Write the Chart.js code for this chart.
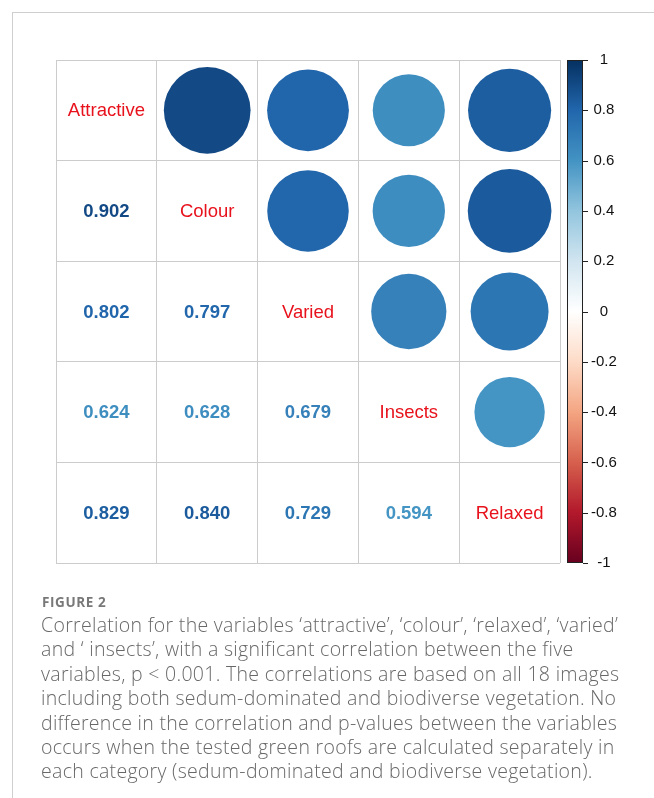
<!DOCTYPE html>
<html>
<head>
<meta charset="utf-8">
<script src="https://cdn.jsdelivr.net/npm/chart.js@4.4.1/dist/chart.umd.min.js"></script>
<style>
  html, body { margin: 0; padding: 0; background: #fff; }
  body { width: 654px; height: 798px; position: relative; overflow: hidden; }
  .frame { position: absolute; left: 12px; top: 12px; width: 700px; height: 800px;
           border-top: 1px solid #cfcfcf; border-left: 1px solid #cfcfcf; }
  #wrap { position: absolute; left: 0; top: 0; width: 654px; height: 620px; }
  .fig { position: absolute; left: 42px; top: 594px; font-family: "Open Sans", sans-serif;
         font-size: 13.5px; line-height: 16px; font-weight: 700; color: #787878; letter-spacing: 0.6px; }
  .txt { position: absolute; left: 41px; top: 613px; font-family: "Open Sans", sans-serif;
         font-size: 19.5px; line-height: 24.4px; font-weight: 300; color: #686868;
         letter-spacing: 0.3px; white-space: nowrap; }
</style>
</head>
<body>
<div class="frame"></div>
<div id="wrap"><canvas id="corrChart" width="654" height="620"></canvas></div>
<div class="fig">FIGURE 2</div>
<div class="txt">Correlation for the variables ‘attractive’, ‘colour’, ‘relaxed’, ‘varied’<br>and ‘ insects’, with a significant correlation between the five<br>variables, p &lt; 0.001. The correlations are based on all 18 images<br>including both sedum-dominated and biodiverse vegetation. No<br>difference in the correlation and p-values between the variables<br>occurs when the tested green roofs are calculated separately in<br>each category (sedum-dominated and biodiverse vegetation).</div>
<script>
// variables on the diagonal
const variables = ["Attractive", "Colour", "Varied", "Insects", "Relaxed"];

// lower triangle of the correlation matrix, one row per variable
const rowColour = [0.902];
const rowVaried = [0.802, 0.797];
const rowInsects = [0.624, 0.628, 0.679];
const rowRelaxed = [0.829, 0.840, 0.729, 0.594];

// colour legend
const cbarTicks = [1, 0.8, 0.6, 0.4, 0.2, 0, -0.2, -0.4, -0.6, -0.8, -1];
const cbarTickLabels = ["1", "0.8", "0.6", "0.4", "0.2", "0", "-0.2", "-0.4", "-0.6", "-0.8", "-1"];

// RdBu palette from -1 to 1
const rdbu = ["#67001F", "#B2182B", "#D6604D", "#F4A582", "#FDDBC7", "#FFFFFF",
              "#D1E5F0", "#92C5DE", "#4393C3", "#2166AC", "#053061"];

const lowerRows = [[], rowColour, rowVaried, rowInsects, rowRelaxed];
const n = variables.length;
const corr = [];
for (let i = 0; i < n; i++) {
    corr.push([]);
    for (let j = 0; j < n; j++) {
        if (i === j) corr[i].push(1);
        else if (j < i) corr[i].push(lowerRows[i][j]);
        else corr[i].push(lowerRows[j][i]);
    }
}

function hexToRgb(h) {
    return [parseInt(h.slice(1, 3), 16), parseInt(h.slice(3, 5), 16), parseInt(h.slice(5, 7), 16)];
}

function corrColor(v) {
    const pos = (v + 1) / 2 * (rdbu.length - 1);
    const k = Math.min(Math.floor(pos), rdbu.length - 2);
    const t = pos - k;
    const a = hexToRgb(rdbu[k]), b = hexToRgb(rdbu[k + 1]);
    const c = a.map((x, i) => Math.round(x + (b[i] - x) * t));
    return `rgb(${c[0]},${c[1]},${c[2]})`;
}

// circles for the upper triangle
const circles = [];
for (let i = 0; i < n; i++) {
    for (let j = i + 1; j < n; j++) {
        circles.push({ x: j + 0.5, y: i + 0.5, v: corr[i][j] });
    }
}

// circle area follows |r|, full cell for r = 1
function circleRadius(c) {
    const s = c.chart.scales.x;
    if (!c.raw || !s || !s.width) return 0;
    const cell = s.getPixelForValue(1) - s.getPixelForValue(0);
    return cell * 0.453 * Math.sqrt(Math.abs(c.raw.v));
}

// numbers in the lower triangle, names on the diagonal
const cellText = {
    id: "cellText",
    afterDatasetsDraw(chart) {
        const { ctx, scales: { x, y } } = chart;
        ctx.save();
        ctx.textAlign = "center";
        ctx.textBaseline = "middle";
        for (let i = 0; i < n; i++) {
            for (let j = 0; j <= i; j++) {
                const px = x.getPixelForValue(j + 0.5);
                const py = y.getPixelForValue(i + 0.5) + 1;
                if (i === j) {
                    ctx.font = '18.5px "Liberation Sans", Arial, sans-serif';
                    ctx.fillStyle = "#e8121c";
                    ctx.fillText(variables[i], px, py);
                } else {
                    ctx.font = 'bold 18.5px "Liberation Sans", Arial, sans-serif';
                    ctx.fillStyle = corrColor(corr[i][j]);
                    ctx.fillText(corr[i][j].toFixed(3), px, py);
                }
            }
        }
        ctx.restore();
    }
};

// gradient bar beside the matrix
const colorBar = {
    id: "colorBar",
    afterDraw(chart) {
        const { ctx, chartArea } = chart;
        const s = chart.scales.cbar;
        const left = chartArea.right + 7, right = chartArea.right + 23;
        const top = s.getPixelForValue(1), bottom = s.getPixelForValue(-1);
        const grad = ctx.createLinearGradient(0, bottom, 0, top);
        rdbu.forEach((c, i) => grad.addColorStop(i / (rdbu.length - 1), c));
        ctx.save();
        ctx.fillStyle = grad;
        ctx.fillRect(left, top, right - left, bottom - top);
        ctx.strokeStyle = "#222";
        ctx.lineWidth = 1;
        ctx.strokeRect(left + 0.5, top + 0.5, right - left - 1, bottom - top - 1);
        ctx.beginPath();
        cbarTicks.forEach(v => {
            const py = Math.round(s.getPixelForValue(v)) + 0.5;
            ctx.moveTo(right, py);
            ctx.lineTo(right + 5, py);
        });
        ctx.stroke();
        ctx.restore();
    }
};

const gridStyle = { color: "#cccccc", lineWidth: 1, drawTicks: false };

new Chart(document.getElementById("corrChart").getContext("2d"), {
    type: "scatter",
    data: {
        datasets: [{
            data: circles,
            showLine: false,
            pointBackgroundColor: c => c.raw ? corrColor(c.raw.v) : "#000",
            pointBorderWidth: 0,
            pointRadius: circleRadius
        }]
    },
    options: {
        responsive: false,
        animation: false,
        events: [],
        layout: { padding: { left: 56, top: 60, right: 0, bottom: 57 } },
        plugins: { legend: { display: false }, tooltip: { enabled: false } },
        scales: {
            x: {
                type: "linear", min: 0, max: n, position: "bottom",
                afterFit: s => { s.height = 0; },
                ticks: { display: false, stepSize: 1 },
                grid: gridStyle, border: { display: false }
            },
            y: {
                type: "linear", min: 0, max: n, reverse: true, position: "left",
                afterFit: s => { s.width = 0; },
                ticks: { display: false, stepSize: 1 },
                grid: gridStyle, border: { display: false }
            },
            cbar: {
                type: "linear", min: -1, max: 1, position: "right",
                afterBuildTicks: s => { s.ticks = cbarTicks.map(v => ({ value: v })); },
                afterFit: s => { s.width = 94; },
                ticks: {
                    crossAlign: "center", padding: 31, color: "#111",
                    font: { family: '"Liberation Sans", Arial, sans-serif', size: 15 },
                    callback: (v, i) => cbarTickLabels[i]
                },
                grid: { display: true, drawOnChartArea: false, drawTicks: false },
                border: { display: false }
            }
        }
    },
    plugins: [cellText, colorBar]
});
</script>
</body>
</html>
